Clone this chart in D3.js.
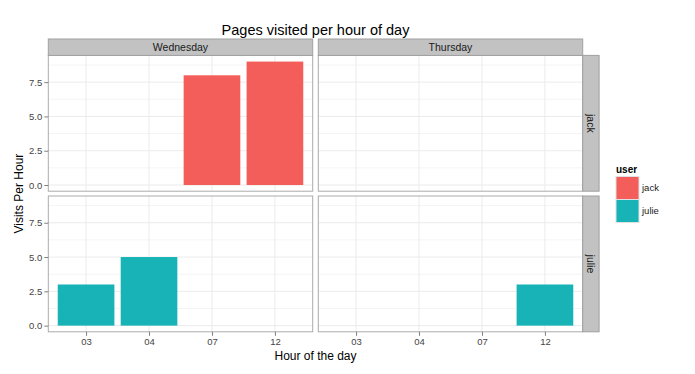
<!DOCTYPE html>
<html>
<head>
<meta charset="utf-8">
<script src="https://cdn.jsdelivr.net/npm/d3@7"></script>
<style>
  body { margin: 0; background: #fff; }
  svg { font-family: "Liberation Sans", Arial, sans-serif; }
</style>
</head>
<body>
<div id="chart"></div>
<script>
var svgWidth = 695;
var svgHeight = 374;

// data
var days = ["Wednesday", "Thursday"];
var users = ["jack", "julie"];
var hours = ["03", "04", "07", "12"];
var userColors = ["#F35E5A", "#17B3B7"];
var visits = [
  { user: "jack", day: "Wednesday", hour: "07", count: 8 },
  { user: "jack", day: "Wednesday", hour: "12", count: 9 },
  { user: "julie", day: "Wednesday", hour: "03", count: 3 },
  { user: "julie", day: "Wednesday", hour: "04", count: 5 },
  { user: "julie", day: "Thursday", hour: "12", count: 3 }
];
var yTicks = [0, 2.5, 5, 7.5];
var yMinor = [1.25, 3.75, 6.25, 8.75];

var panelLeft = 48.3;
var panelTop = 55.4;
var panelW = 264.4;
var panelH = 135.8;
var gapX = 5.6;
var gapY = 4.8;
var stripSize = 16.4;

var svg = d3.select("#chart")
  .append("svg")
  .attr("width", svgWidth)
  .attr("height", svgHeight);

var x = d3.scalePoint()
  .domain(hours)
  .range([0, panelW])
  .padding(0.6);

var barW = x.step() * 0.9;

var yMax = d3.max(visits, d => d.count);
var y = d3.scaleLinear()
  .domain([-yMax * 0.05, yMax * 1.05])
  .range([panelH, 0]);

var color = d3.scaleOrdinal().domain(users).range(userColors);

// title
svg.append("text")
  .attr("x", panelLeft + panelW + gapX / 2)
  .attr("y", 35)
  .attr("text-anchor", "middle")
  .attr("font-size", "14.5px")
  .attr("fill", "#000")
  .text("Pages visited per hour of day");

users.forEach(function(u, r) {
  days.forEach(function(day, c) {
    var px = panelLeft + c * (panelW + gapX);
    var py = panelTop + r * (panelH + gapY);
    var g = svg.append("g").attr("transform", `translate(${px}, ${py})`);

    g.append("rect")
      .attr("width", panelW).attr("height", panelH)
      .attr("fill", "#fff");

    g.selectAll(".minor")
      .data(yMinor)
      .enter().append("line")
      .attr("x1", 0).attr("x2", panelW)
      .attr("y1", d => y(d)).attr("y2", d => y(d))
      .attr("stroke", "#f4f4f4").attr("stroke-width", 1);

    g.selectAll(".major")
      .data(yTicks)
      .enter().append("line")
      .attr("x1", 0).attr("x2", panelW)
      .attr("y1", d => y(d)).attr("y2", d => y(d))
      .attr("stroke", "#ebebeb").attr("stroke-width", 1);

    g.selectAll(".vgrid")
      .data(hours)
      .enter().append("line")
      .attr("x1", d => x(d)).attr("x2", d => x(d))
      .attr("y1", 0).attr("y2", panelH)
      .attr("stroke", "#ebebeb").attr("stroke-width", 1);

    g.selectAll(".bar")
      .data(visits.filter(d => d.user == u && d.day == day))
      .enter().append("rect")
      .attr("x", d => x(d.hour) - barW / 2)
      .attr("width", barW)
      .attr("y", d => y(d.count))
      .attr("height", d => y(0) - y(d.count))
      .attr("fill", d => color(d.user));

    g.append("rect")
      .attr("width", panelW).attr("height", panelH)
      .attr("fill", "none")
      .attr("stroke", "#ababab").attr("stroke-width", 1);

    // left axis
    if (c == 0) {
      var leftAxis = d3.axisLeft(y)
        .tickValues(yTicks)
        .tickFormat(d3.format(".1f"))
        .tickSize(4)
        .tickPadding(2);
      var ax = g.append("g").call(leftAxis);
      ax.select(".domain").remove();
      ax.selectAll("line").attr("stroke", "#7f7f7f");
      ax.selectAll("text").attr("font-size", "9.5px").attr("fill", "#444")
        .attr("font-family", "Liberation Sans, Arial, sans-serif");
    }
    // bottom axis
    if (r == users.length - 1) {
      var bottomAxis = d3.axisBottom(x).tickSize(4).tickPadding(2);
      var bx = g.append("g")
        .attr("transform", `translate(0, ${panelH})`)
        .call(bottomAxis);
      bx.select(".domain").remove();
      bx.selectAll("line").attr("stroke", "#7f7f7f");
      bx.selectAll("text").attr("font-size", "9.5px").attr("fill", "#444")
        .attr("font-family", "Liberation Sans, Arial, sans-serif");
    }
    // top strip
    if (r == 0) {
      g.append("rect")
        .attr("x", 0).attr("y", -stripSize)
        .attr("width", panelW).attr("height", stripSize)
        .attr("fill", "#c2c2c2").attr("stroke", "#a0a0a0");
      g.append("text")
        .attr("x", panelW / 2).attr("y", -stripSize / 2)
        .attr("dy", "0.35em")
        .attr("text-anchor", "middle")
        .attr("font-size", "10.5px")
        .attr("fill", "#1a1a1a")
        .text(day);
    }
    // right strip
    if (c == days.length - 1) {
      g.append("rect")
        .attr("x", panelW).attr("y", 0)
        .attr("width", stripSize).attr("height", panelH)
        .attr("fill", "#c2c2c2").attr("stroke", "#a0a0a0");
      g.append("text")
        .attr("transform", `translate(${panelW + stripSize / 2}, ${panelH / 2}) rotate(90)`)
        .attr("dy", "0.35em")
        .attr("text-anchor", "middle")
        .attr("font-size", "10.5px")
        .attr("fill", "#1a1a1a")
        .text(u);
    }
  });
});

// axis titles
svg.append("text")
  .attr("x", panelLeft + panelW + gapX / 2)
  .attr("y", 360)
  .attr("text-anchor", "middle")
  .attr("font-size", "12px")
  .text("Hour of the day");

svg.append("text")
  .attr("transform", `translate(23, ${panelTop + panelH + gapY / 2}) rotate(-90)`)
  .attr("text-anchor", "middle")
  .attr("font-size", "12px")
  .text("Visits Per Hour");

// legend
var legend = svg.append("g").attr("transform", "translate(616, 165)");
legend.append("text")
  .attr("x", 0).attr("y", 7.5)
  .attr("font-size", "10px")
  .attr("font-weight", "bold")
  .text("user");

var keySize = 23;
users.forEach(function(u, i) {
  legend.append("rect")
    .attr("x", 0).attr("y", 11.5 + i * keySize)
    .attr("width", keySize).attr("height", keySize)
    .attr("fill", color(u))
    .attr("stroke", "#e0e0e0").attr("stroke-width", 1);
  legend.append("text")
    .attr("x", keySize + 3).attr("y", 11.5 + i * keySize + keySize / 2)
    .attr("dy", "0.35em")
    .attr("font-size", "9.5px")
    .attr("fill", "#1a1a1a")
    .text(u);
});
</script>
</body>
</html>
